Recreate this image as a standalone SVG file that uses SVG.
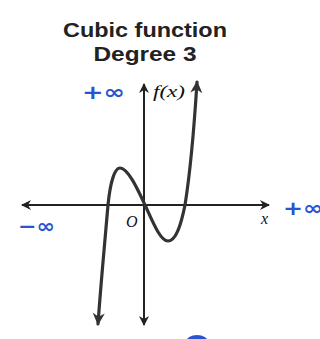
<svg xmlns="http://www.w3.org/2000/svg" width="320" height="339" viewBox="0 0 320 339">
<style>
.title{font-family:"Liberation Sans",Arial,sans-serif;font-weight:bold;font-size:21px;fill:#222;text-anchor:middle}
.lbl{font-family:"Liberation Serif","Times New Roman",serif;font-style:italic;font-size:16px;fill:#111}
.blue{font-family:"DejaVu Sans",sans-serif;font-weight:bold;font-size:20px;fill:#2a55d0}
.ax{stroke:#222;stroke-width:2;fill:none}
.cv{stroke:#333;stroke-width:3.2;fill:none;stroke-linecap:round}
</style>
<defs>
<marker id="ah" viewBox="0 0 10 10" refX="9" refY="5" markerWidth="5" markerHeight="5" orient="auto-start-reverse" markerUnits="strokeWidth">
<path d="M0,0 L10,5 L0,10 L3,5 Z" fill="#222"/>
</marker>
<marker id="ah2" viewBox="0 0 10 10" refX="9" refY="5" markerWidth="3.8" markerHeight="3.8" orient="auto-start-reverse" markerUnits="strokeWidth">
<path d="M0,0 L10,5 L0,10 L3,5 Z" fill="#333"/>
</marker>
</defs>
<rect width="320" height="339" fill="#fff"/>
<g id="title">
<text class="title" x="145" y="37" textLength="164" lengthAdjust="spacingAndGlyphs">Cubic function</text>
<text class="title" x="145" y="61" textLength="103" lengthAdjust="spacingAndGlyphs">Degree 3</text>
</g>
<g id="connectors">
<line class="ax" x1="144" y1="325" x2="144" y2="84" marker-start="url(#ah)" marker-end="url(#ah)"/>
<line class="ax" x1="22" y1="205" x2="269" y2="205" marker-start="url(#ah)" marker-end="url(#ah)"/>
<path class="cv" d="M98,324 C101,282 105,240 108,205 C110,185 114,168 120,168 C128,168 138,190 145,205 C152,220 160,241 168,241 C176,241 181,225 185,205 C189,180 194,130 197,82" marker-start="url(#ah2)" marker-end="url(#ah2)"/>
</g>
<g id="labels">
<text class="lbl" x="153" y="97" font-size="16" textLength="32" lengthAdjust="spacingAndGlyphs">f(x)</text>
<text class="lbl" x="126" y="227" font-size="17">O</text>
<text class="lbl" x="261" y="224" font-size="15">x</text>
<text class="blue" x="82" y="99" textLength="43" lengthAdjust="spacingAndGlyphs">+∞</text>
<text class="blue" x="283" y="215" textLength="40" lengthAdjust="spacingAndGlyphs">+∞</text>
<text class="blue" x="18" y="233" textLength="37" lengthAdjust="spacingAndGlyphs">−∞</text>
<ellipse cx="197" cy="342" rx="11" ry="7" fill="#2a55d0"/>
</g>
</svg>
